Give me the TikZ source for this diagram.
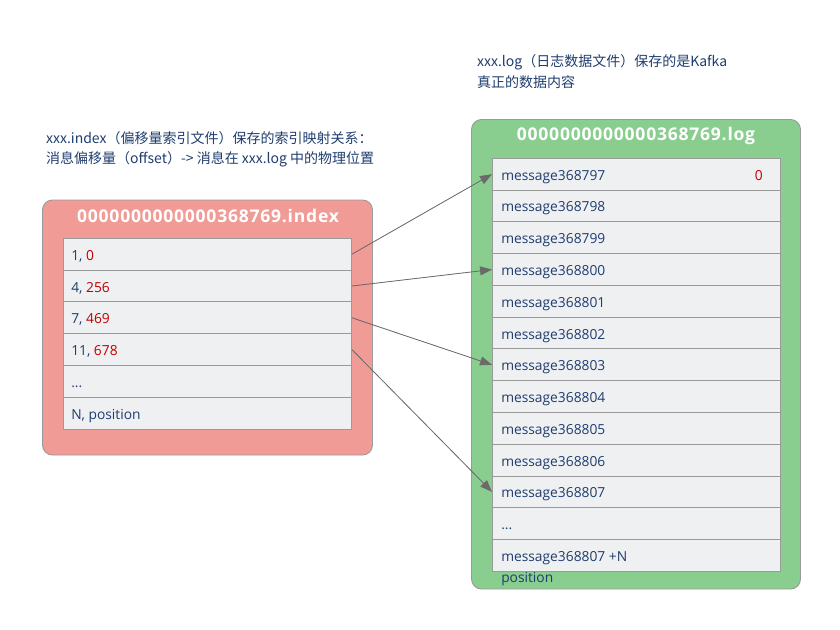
\documentclass[tikz,border=0pt]{standalone}
\usepackage{fontspec}
\setmainfont{Open Sans}
\newfontfamily\titlefont[LetterSpace=4.5]{Open Sans}
\newfontfamily\cjk{Noto Sans CJK SC}
\usetikzlibrary{arrows.meta,positioning}
\newcommand\mythreedots{...}
\definecolor{txtblue}{HTML}{1F3D6E}
\definecolor{numred}{HTML}{C00000}
\definecolor{idxfill}{HTML}{F09B96}
\definecolor{logfill}{HTML}{8ACE8F}
\definecolor{rowfill}{HTML}{EFF0F2}
\definecolor{edgegray}{HTML}{9A9A9A}
\definecolor{arrgray}{HTML}{6A6A6A}
\tikzset{
  outerbox/.style={draw=edgegray, line width=0.9pt, rounded corners=10pt, inner sep=0pt},
  rowbox/.style={draw=edgegray, line width=0.9pt, fill=rowfill, minimum width=288pt, minimum height=31.8pt, inner sep=0pt},
  rowtxt/.style={anchor=west, inner sep=0pt, text=txtblue, font=\fontsize{13.8}{16}\selectfont, text height=9.5pt, text depth=2.5pt},
  titletxt/.style={text=white, font=\titlefont\fontsize{17.5}{20}\selectfont\bfseries, inner sep=0pt},
  notetxt/.style={anchor=west, inner sep=0pt, text=txtblue, font=\cjk\fontsize{14}{17}\selectfont},
  arr/.style={draw=arrgray, line width=0.8pt, -{Triangle[length=12pt,width=9pt]}, fill=arrgray}
}
\begin{document}
\begin{tikzpicture}[x=1pt,y=-1pt]
\useasboundingbox (0,0) rectangle (840,629);
% annotations
\node[notetxt] (n1) at (46,138.5) {xxx.index（偏移量索引文件）保存的索引映射关系：};
\node[notetxt] (n2) at (46,159.5) {消息偏移量（offset）-{}> 消息在 xxx.log 中的物理位置};
\node[notetxt] (n3) at (477,62.5) {xxx.log（日志数据文件）保存的是Kafka};
\node[notetxt] (n4) at (477,82.5) {真正的数据内容};
% index box
\draw[outerbox, fill=idxfill] (42.5,200) rectangle (372.5,455);
\node[titletxt] (ititle) at (208,216) {0000000000000368769.index};
\foreach \k/\t in {1/{1, \textcolor{numred}{0}},2/{4, \textcolor{numred}{256}},3/{7, \textcolor{numred}{469}},4/{11, \textcolor{numred}{678}},5/{\mythreedots},6/{N, position}}{
  \node[rowbox] (i\k) at (207.5,{238.3+(\k-0.5)*31.8}) {};
  \node[rowtxt] (it\k) at ([xshift=8pt,yshift=-2.5pt]i\k.west) {\t};
}
% log box
\draw[outerbox, fill=logfill] (471.5,119.5) rectangle (800.5,589);
\node[titletxt] (ltitle) at (636,135.5) {0000000000000368769.log};
\foreach \k/\t in {1/message368797,2/message368798,3/message368799,4/message368800,5/message368801,6/message368802,7/message368803,8/message368804,9/message368805,10/message368806,11/message368807,12/\mythreedots}{
  \node[rowbox] (l\k) at (636.5,{158.3+(\k-0.5)*31.77}) {};
  \node[rowtxt] (lt\k) at ([xshift=9pt,yshift=-2.5pt]l\k.west) {\t};
}
\node[rowbox] (l13) at (636.5,{158.3+12.5*31.77}) {};
\node[rowtxt] (lt13) at ([xshift=9pt,yshift=-2.5pt]l13.west) {message368807 +N};
\node[rowtxt] (lt13b) at ([xshift=9pt,yshift=-24pt]l13.west) {position};
\node[rowtxt, anchor=east, text=numred] (zero) at ([xshift=-18pt,yshift=-2.5pt]l1.east) {0};
% arrows
\draw[arr] (i1.east) -- (l1.west);
\draw[arr] (i2.east) -- (l4.west);
\draw[arr] (i3.east) -- (l7.west);
\draw[arr] (i4.east) -- (l11.west);
\end{tikzpicture}
\end{document}
